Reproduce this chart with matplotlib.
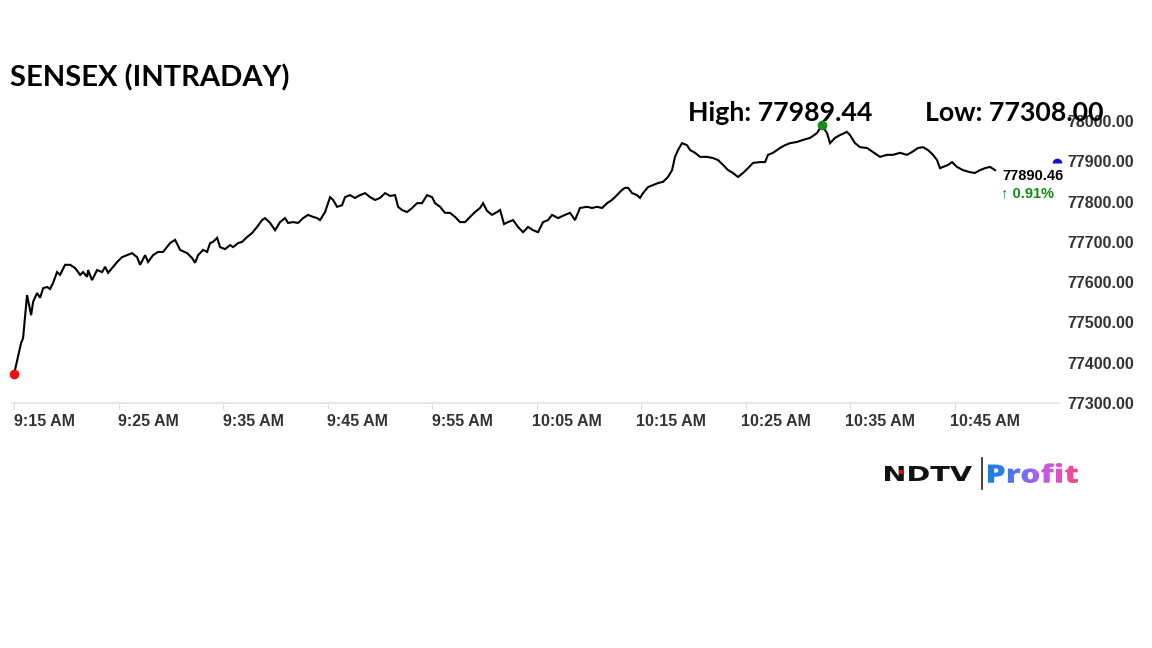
# -*- coding: utf-8 -*-
"""
SENSEX intraday line chart (NDTV Profit style)
"""

# %% Setup

import numpy as np
import matplotlib
matplotlib.use('Agg')
import matplotlib.pyplot as plt
from matplotlib.transforms import ScaledTranslation, Affine2D
from matplotlib.textpath import TextPath
from matplotlib.patches import PathPatch, Circle
from matplotlib.font_manager import FontProperties

# %% Data (minutes after 9:15 AM, index level)

minutes = [0.0, 0.67, 0.86, 1.24, 1.63, 1.82, 2.20, 2.49, 2.78, 3.16,
           3.44, 3.73, 4.11, 4.40, 4.88, 5.36, 5.84, 6.32, 6.60, 6.99,
           7.08, 7.46, 7.94, 8.42, 8.71, 9.00, 9.38, 9.86, 10.33, 10.81,
           11.29, 11.77, 12.06, 12.54, 12.82, 13.30, 13.78, 14.26, 14.93, 15.41,
           15.89, 16.56, 17.03, 17.32, 17.61, 18.09, 18.47, 18.76, 19.04, 19.43,
           19.71, 20.19, 20.67, 20.96, 21.44, 21.82, 22.30, 22.78, 23.25, 23.73,
           24.02, 24.50, 24.98, 25.45, 25.93, 26.22, 26.70, 27.18, 27.66, 28.13,
           28.61, 29.00, 29.28, 29.76, 30.05, 30.24, 30.53, 30.91, 31.39, 31.67,
           32.15, 32.63, 33.11, 33.59, 34.07, 34.55, 35.02, 35.50, 35.98, 36.46,
           36.75, 37.13, 37.61, 38.09, 38.56, 39.04, 39.52, 40.00, 40.29, 40.77,
           41.24, 41.72, 42.20, 42.68, 43.16, 43.64, 44.11, 44.59, 44.88, 45.26,
           45.74, 46.22, 46.51, 46.89, 47.27, 47.75, 48.23, 48.71, 49.19, 49.67,
           50.14, 50.62, 51.10, 51.48, 52.06, 52.73, 53.21, 53.68, 54.16, 54.83,
           55.31, 55.79, 56.27, 56.75, 57.22, 57.70, 58.18, 58.47, 58.76, 59.14,
           59.62, 59.90, 60.19, 60.67, 61.15, 61.63, 62.11, 62.58, 62.97, 63.25,
           63.54, 63.92, 64.40, 64.69, 65.17, 65.65, 66.32, 66.89, 67.37, 67.85,
           68.33, 68.80, 69.28, 69.76, 70.24, 70.72, 71.39, 71.87, 72.15, 72.63,
           73.30, 73.78, 74.26, 74.93, 75.50, 76.17, 76.84, 77.32, 77.80, 78.09,
           78.56, 79.04, 79.71, 80.00, 80.48, 80.96, 81.63, 82.20, 82.87, 83.54,
           84.11, 84.78, 85.45, 85.93, 86.51, 86.99, 87.46, 87.94, 88.33, 88.61,
           88.90, 89.38, 89.76, 90.24, 90.81, 91.48, 91.96, 92.44, 92.92, 93.40,
           93.88]

sensex = [77372, 77449, 77461, 77568, 77518, 77551, 77573, 77561, 77585, 77588,
          77583, 77598, 77625, 77618, 77643, 77643, 77635, 77618, 77625, 77613,
          77630, 77605, 77630, 77625, 77638, 77623, 77635, 77650, 77662, 77667,
          77672, 77662, 77643, 77667, 77650, 77667, 77675, 77675, 77697, 77705,
          77680, 77672, 77660, 77648, 77667, 77680, 77675, 77697, 77700, 77710,
          77687, 77682, 77692, 77687, 77697, 77700, 77712, 77722, 77737, 77754,
          77759, 77747, 77729, 77749, 77759, 77747, 77749, 77747, 77759, 77767,
          77762, 77759, 77754, 77774, 77796, 77811, 77804, 77787, 77791, 77811,
          77816, 77809, 77816, 77821, 77811, 77804, 77809, 77821, 77814, 77816,
          77787, 77779, 77774, 77784, 77796, 77796, 77816, 77811, 77796, 77787,
          77772, 77772, 77762, 77749, 77749, 77762, 77774, 77784, 77796, 77777,
          77767, 77774, 77779, 77744, 77749, 77754, 77737, 77724, 77737, 77729,
          77724, 77749, 77754, 77767, 77759, 77767, 77772, 77754, 77784, 77787,
          77784, 77787, 77784, 77796, 77804, 77816, 77829, 77834, 77834, 77821,
          77816, 77809, 77821, 77836, 77841, 77846, 77849, 77861, 77878, 77911,
          77928, 77945, 77940, 77928, 77921, 77911, 77911, 77908, 77903, 77891,
          77878, 77871, 77861, 77871, 77883, 77896, 77898, 77898, 77916, 77921,
          77933, 77940, 77945, 77948, 77953, 77958, 77970, 77989.44, 77970, 77945,
          77958, 77965, 77973, 77965, 77945, 77935, 77933, 77923, 77911, 77916,
          77916, 77921, 77916, 77923, 77933, 77935, 77928, 77916, 77903, 77883,
          77886, 77891, 77898, 77886, 77878, 77873, 77871, 77878, 77883, 77886,
          77878]

tick_minutes = [0, 10, 20, 30, 40, 50, 60, 70, 80, 90]
tick_labels = ['9:15 AM', '9:25 AM', '9:35 AM', '9:45 AM', '9:55 AM',
               '10:05 AM', '10:15 AM', '10:25 AM', '10:35 AM', '10:45 AM']
y_ticks = [77300, 77400, 77500, 77600, 77700, 77800, 77900, 78000]

title = 'SENSEX (INTRADAY)'
high_txt = 'High: 77989.44'
low_txt = 'Low: 77308.00'
last_value = '77890.46'
change_txt = '\u2191 0.91%'
marker_min, marker_val = 99.8, 77896   # blue "now" marker at the right edge

W, H = 1152, 648

# %% Figure and main axes

fig = plt.figure(figsize=(W / 100, H / 100), dpi=100)
ax = fig.add_axes([12 / W, 1 - 403 / H, 1047 / W, 282 / H])
ax.set_xlim(-0.2, 100)
ax.set_ylim(77300, 78000)

ax.plot(minutes, sensex, color='black', lw=1.5, zorder=3, solid_joinstyle='miter')
ax.plot(minutes[0], sensex[0], 'o', color='#ee1111', ms=6, zorder=4, clip_on=False)
i_max = int(np.argmax(sensex))
ax.plot(minutes[i_max], sensex[i_max], 'o', color='#1a8a1a', ms=6, zorder=4, clip_on=False)
ax.plot(marker_min, marker_val, 'o', color='#1010cc', ms=7, fillstyle='top',
        markerfacecoloralt='none', markeredgewidth=0, zorder=4, clip_on=False)

for s in ['top', 'left', 'right']:
    ax.spines[s].set_visible(False)
ax.spines['bottom'].set_color('#e3e3e3')
ax.spines['bottom'].set_linewidth(1.2)

# x ticks: marks at the time, labels shifted to the right (Highcharts style)
ax.set_xticks(tick_minutes)
ax.tick_params(axis='x', length=4, color='#dcdcdc', labelbottom=False)
xtr = ax.get_xaxis_transform() + ScaledTranslation(0.30, -0.18, fig.dpi_scale_trans)
for t, lab in zip(tick_minutes, tick_labels):
    ax.text(t, 0, lab, transform=xtr, ha='center', va='center',
            fontsize=11.5, fontweight='bold', color='#333333', family='Liberation Sans')

ax.yaxis.tick_right()
ax.set_yticks(y_ticks)
ax.set_yticklabels(['%.2f' % v for v in y_ticks])
ax.tick_params(axis='y', length=0, pad=6, labelsize=11.5, labelcolor='#333333')
for lbl in ax.get_yticklabels():
    lbl.set_fontweight('bold')
    lbl.set_family('Liberation Sans')

# last value + change
fig.text(1002 / W, 1 - 176 / H, last_value, ha='left', va='center',
         fontsize=10.5, fontweight='bold', color='black', family='Liberation Sans')
fig.text(1001 / W, 1 - 193 / H, change_txt, ha='left', va='center',
         fontsize=10.5, fontweight='bold', color='#138a13',
         family=['Liberation Sans', 'DejaVu Sans'])

# %% Titles

fig.text(10 / W, 1 - 86 / H, title, ha='left', va='baseline',
         fontsize=21, fontweight='bold', family='Lato', color='black')
fig.text(688 / W, 1 - 121 / H, high_txt, ha='left', va='baseline',
         fontsize=19.3, fontweight='bold', family='Lato', color='black', zorder=10)
fig.text(925 / W, 1 - 121 / H, low_txt, ha='left', va='baseline',
         fontsize=19.3, fontweight='bold', family='Lato', color='black', zorder=10)

# %% Logo (overlay axes in pixel coords, y measured upwards)

lax = fig.add_axes([0, 0, 1, 1], zorder=20)
lax.set_xlim(0, W)
lax.set_ylim(0, H)
lax.axis('off')
lax.patch.set_alpha(0)


def fit_path(text, x0, y_top, w, h, prop):
    tp = TextPath((0, 0), text, size=1, prop=prop)
    ext = tp.get_extents()
    tr = (Affine2D().translate(-ext.x0, -ext.y0)
          .scale(w / ext.width, h / ext.height)
          .translate(x0, H - y_top - h))
    return tp, tr


tp, tr = fit_path('NDTV', 885, 466, 87, 15,
                  FontProperties(family='DejaVu Sans', weight='bold'))
lax.add_patch(PathPatch(tp, transform=tr + lax.transData, fc='#111111', ec='none'))
lax.add_patch(Circle((901, H - 472), 2.2, fc='#e01010', ec='none'))
lax.plot([982, 982], [H - 458, H - 489], color='#222222', lw=1.2)

tp, tr = fit_path('Profit', 988, 463, 90, 20,
                  FontProperties(family='Open Sans', weight=800))
prof = PathPatch(tp, transform=tr + lax.transData, fc='none', ec='none')
lax.add_patch(prof)
grad = np.linspace(0, 1, 256).reshape(1, -1)
cmap = matplotlib.colors.LinearSegmentedColormap.from_list(
    'ndtv', ['#1a7fe3', '#3b78ee', '#7a6cf0', '#b65ee6', '#e24fc6', '#f24a7c'])
im = lax.imshow(grad, extent=[988, 1078, H - 485, H - 460], aspect='auto',
                cmap=cmap, zorder=21)
im.set_clip_path(prof)

fig.savefig('out.png', dpi=100, facecolor='white')
